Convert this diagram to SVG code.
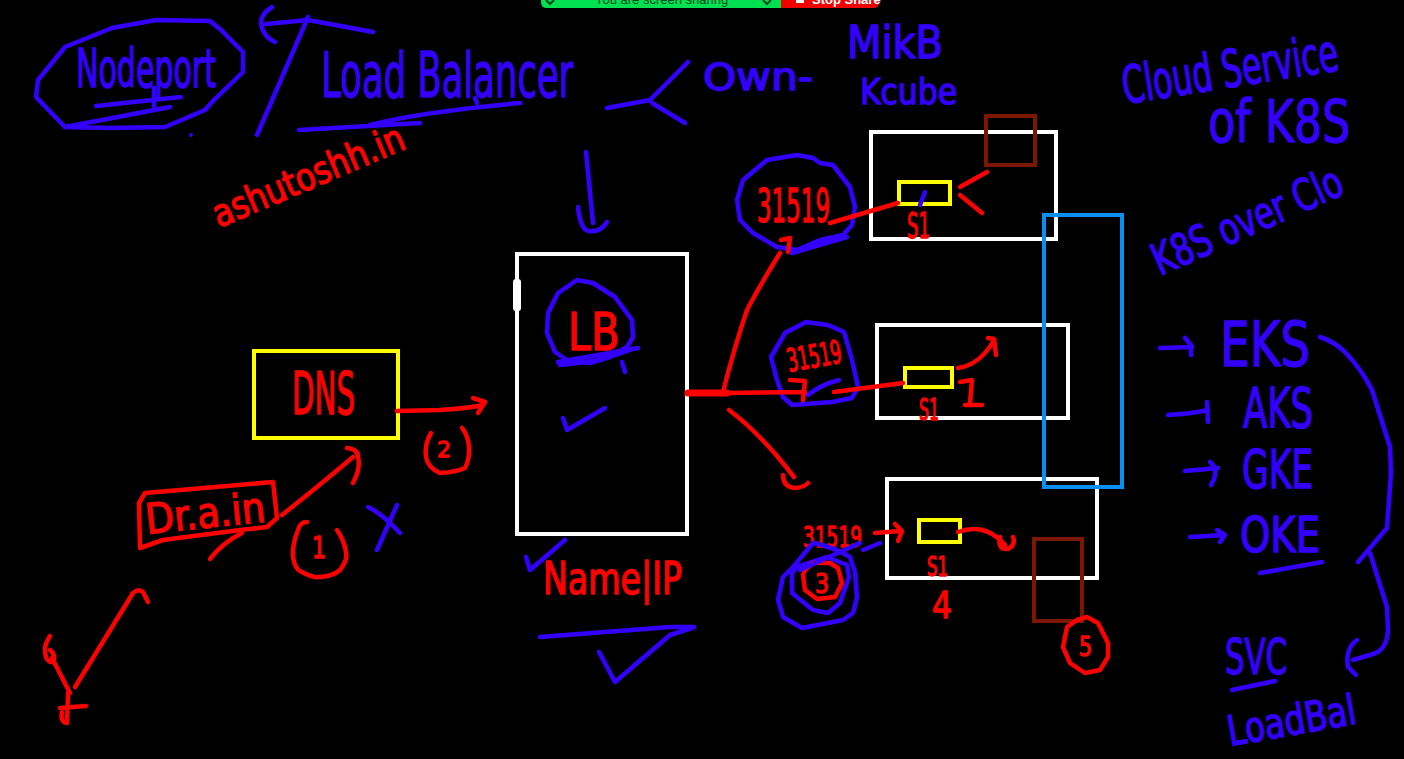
<svg xmlns="http://www.w3.org/2000/svg" width="1404" height="759" viewBox="0 0 1404 759">
<style>
.ink{fill:none;stroke-linecap:round;stroke-linejoin:round;stroke-width:4.5}
.b{stroke:#3300ff}
.r{stroke:#ff0000}
.t{font-family:"Liberation Sans Narrow","DejaVu Sans Condensed","Liberation Sans",sans-serif;stroke-width:1.3;stroke-linejoin:round}
.tb{fill:#3300ff;stroke:#3300ff}
.tr{fill:#ff0000;stroke:#ff0000}
.box{fill:none;stroke:#ffffff;stroke-width:4}
.yel{fill:none;stroke:#ffff00;stroke-width:4}
.brn{fill:none;stroke:#7a1800;stroke-width:4}
</style>
<rect x="0" y="0" width="1404" height="759" fill="#000000"/>

<g id="banner">
<path d="M541,-10 H781 V8 H547 Q541,8 541,2 Z" fill="#00e050"/>
<path d="M781,-10 H879 V2 Q879,8 873,8 H781 Z" fill="#f20000"/>
<text x="595" y="4" font-family="Liberation Sans, sans-serif" font-size="13" fill="#0b4a20">You are screen sharing</text>
<path d="M546,0 L550,4 L554,0 M763,0 L767,4 L771,0" stroke="#0b4a20" stroke-width="2" fill="none"/>
<rect x="796" y="-6" width="8" height="9" fill="#ffffff"/>
<text x="812" y="4" font-family="Liberation Sans, sans-serif" font-size="13" font-weight="bold" fill="#ffffff">Stop Share</text>
</g>

<g id="nodeport-title">
<path class="ink b" d="M65,127 L36,97 L38,80 L65,47 L112,28 L156,20 L210,21 L221,30 L243,52 L243,72 L214,100 L205,110 L165,127 L110,128 Z"/>
<text class="t tb" x="76" y="87" font-size="54" textLength="140" lengthAdjust="spacingAndGlyphs">Nodeport</text>
<path class="ink b" d="M96,106 L181,97 M65,127 L170,107 M154,88 L154,107"/>
<circle cx="191" cy="135" r="2" fill="#3300ff"/>
</g>

<g id="loadbalancer-title">
<path class="ink b" d="M272,7 Q261,14 261,22 Q262,36 275,42 M266,24 L308,20 L373,32 M308,17 L257,135"/>
<text class="t tb" x="321" y="97" font-size="62" textLength="252" lengthAdjust="spacingAndGlyphs">Load Balancer</text>
<path class="ink b" d="M299,130 L420,123 M370,125 Q420,112 520,103 M475,98 L477,103"/>
<text class="t tr" x="0" y="0" font-size="38" textLength="205" lengthAdjust="spacingAndGlyphs" transform="translate(219,228) rotate(-23)">ashutoshh.in</text>
</g>

<g id="own-notes">
<path class="ink b" d="M607,108 L650,100 L688,62 M652,103 L685,123"/>
<text class="t tb" x="703" y="90" font-size="38" textLength="110" lengthAdjust="spacingAndGlyphs">Own-</text>
<text class="t tb" x="847" y="58" font-size="44" textLength="96" lengthAdjust="spacingAndGlyphs">MikB</text>
<text class="t tb" x="860" y="104" font-size="36" textLength="97" lengthAdjust="spacingAndGlyphs">Kcube</text>
<path class="ink b" d="M586,152 L593,223 M578,207 Q580,228 588,231 Q600,233 607,222"/>
</g>

<g id="cloud-notes">
<text class="t tb" x="0" y="0" font-size="52" textLength="218" lengthAdjust="spacingAndGlyphs" transform="translate(1125,104) rotate(-9)">Cloud Service</text>
<text class="t tb" x="1208" y="142" font-size="58" textLength="142" lengthAdjust="spacingAndGlyphs">of K8S</text>
<text class="t tb" x="0" y="0" font-size="44" textLength="204" lengthAdjust="spacingAndGlyphs" transform="translate(1160,276) rotate(-24)">K8S over Clo</text>
</g>

<g id="provider-list">
<path class="ink b" d="M1160,348 L1192,347 M1185,338 L1191,345 L1191,355"/>
<text class="t tb" x="1220" y="366" font-size="62" textLength="90" lengthAdjust="spacingAndGlyphs">EKS</text>
<path class="ink b" d="M1168,415 Q1190,414 1208,410 M1207,402 L1208,422"/>
<text class="t tb" x="1243" y="427" font-size="55" textLength="70" lengthAdjust="spacingAndGlyphs">AKS</text>
<path class="ink b" d="M1185,471 L1218,468 M1210,462 Q1220,470 1211,485"/>
<text class="t tb" x="1242" y="488" font-size="54" textLength="71" lengthAdjust="spacingAndGlyphs">GKE</text>
<path class="ink b" d="M1190,537 L1225,535 M1217,530 L1225,535 L1220,542"/>
<text class="t tb" x="1240" y="552" font-size="50" textLength="80" lengthAdjust="spacingAndGlyphs">OKE</text>
<path class="ink b" d="M1260,573 L1322,562"/>
<path class="ink b" d="M1320,337 Q1335,342 1345,352 Q1362,370 1372,390 L1390,447 L1391,473 L1387,528 L1358,562"/>
<path class="ink b" d="M1370,553 L1387,607 L1388,630 Q1387,650 1373,654 L1353,660 M1357,640 Q1345,648 1348,667 L1356,675"/>
<text class="t tb" x="1225" y="674" font-size="50" textLength="62" lengthAdjust="spacingAndGlyphs">SVC</text>
<path class="ink b" d="M1232,690 L1275,681"/>
<text class="t tb" x="0" y="0" font-size="42" textLength="130" lengthAdjust="spacingAndGlyphs" transform="translate(1230,746) rotate(-10)">LoadBal</text>
</g>

<g id="client">
<path class="ink r" d="M145,493 L273,482 L277,518 L267,527 L240,530 L163,540 L140,548 L139,503 Z"/>
<text class="t tr" x="0" y="0" font-size="42" textLength="120" lengthAdjust="spacingAndGlyphs" transform="translate(147,534) rotate(-6)">Dr.a.in</text>
<path class="ink r" d="M210,559 Q222,543 242,533"/>
<path class="ink r" d="M298,530 Q292,545 293,557 Q295,570 302,572 Q312,578 320,577 Q333,576 340,570 Q348,560 346,552 Q344,540 337,530 M298,530 Q300,522 307,522"/>
<text class="t tr" x="312" y="558" font-size="30" textLength="14" lengthAdjust="spacingAndGlyphs">1</text>
<path class="ink b" d="M368,507 Q380,512 400,533 M397,505 L377,550"/>
<path class="ink r" d="M52,658 L70,693 M68,693 L67,723 M60,708 L86,706 M62,712 Q60,722 67,723 M50,636 Q44,645 45,652 Q46,662 52,662 Q57,656 50,650"/>
</g>

<g id="dns">
<rect x="254" y="351" width="144" height="87" fill="none" stroke="#ffff00" stroke-width="4"/>
<text class="t tr" x="292" y="414" font-size="58" textLength="63" lengthAdjust="spacingAndGlyphs">DNS</text>
</g>

<g id="lb">
<rect x="517" y="254" width="170" height="280" class="box"/>
<rect x="513" y="279" width="8" height="32" rx="3" fill="#ffffff"/>
<path class="ink b" d="M547,333 L548,313 L558,293 L577,280 L593,283 L615,297 L632,320 L633,337 L627,347 L610,357 L590,363 L567,360 L555,352 Z"/>
<text class="t tr" x="568" y="350" font-size="52" textLength="52" lengthAdjust="spacingAndGlyphs">LB</text>
<path class="ink b" d="M558,362 L638,348 M560,365 Q600,362 630,350 M622,362 L625,372"/>
<path class="ink b" d="M563,418 L567,430 L605,408"/>
<path class="ink b" d="M526,557 L530,570 L565,540"/>
<text class="t tr" x="543" y="594" font-size="44" textLength="139" lengthAdjust="spacingAndGlyphs">Name|IP</text>
<path class="ink b" d="M540,637 L670,627 L694,627 M599,652 L615,682 L670,635 L692,628"/>
</g>

<g id="node-1">
<rect x="871" y="132" width="185" height="107" class="box"/>
<rect x="986" y="116" width="49" height="49" class="brn"/>
<rect x="899" y="182" width="51" height="22" class="yel"/>
<path class="ink b" d="M925,192 L920,205"/>
<text class="t tr" x="907" y="238" font-size="36" textLength="23" lengthAdjust="spacingAndGlyphs">S1</text>
<path class="ink r" d="M987,172 L960,187 M960,195 L982,213"/>
<path class="ink b" d="M743,180 L767,160 L797,155 L813,158 L820,163 L833,165 L850,187 L855,207 L852,225 L843,235 L820,240 L797,250 L777,247 L753,233 L740,220 L737,200 Z M847,237 L792,253"/>
<text class="t tr" x="757" y="222" font-size="46" textLength="73" lengthAdjust="spacingAndGlyphs">31519</text>
</g>

<g id="node-2">
<rect x="877" y="325" width="191" height="93" class="box"/>
<rect x="905" y="368" width="47" height="19" class="yel"/>
<text class="t tr" x="919" y="420" font-size="30" textLength="20" lengthAdjust="spacingAndGlyphs">S1</text>
<path class="ink r" d="M958,368 Q980,365 994,340 M988,338 L994,339 L996,355"/>
<path class="ink r" d="M960,382 L972,380 L970,403 M965,405 L982,405"/>
<path class="ink b" d="M771,357 L785,333 L806,322 L828,325 L844,332 L852,360 L858,387 L852,398 L832,402 L792,405 L783,397 L777,380 Z"/>
<text class="t tr" x="0" y="0" font-size="32" textLength="55" lengthAdjust="spacingAndGlyphs" transform="translate(789,372) rotate(-10)">31519</text>
<path class="ink b" d="M808,395 Q820,385 839,380"/>
</g>

<g id="node-3">
<rect x="887" y="479" width="210" height="99" class="box"/>
<rect x="919" y="520" width="41" height="22" class="yel"/>
<rect x="1034" y="539" width="48" height="82" class="brn"/>
<text class="t tr" x="927" y="576" font-size="27" textLength="21" lengthAdjust="spacingAndGlyphs">S1</text>
<text class="t tr" x="932" y="618" font-size="38" textLength="20" lengthAdjust="spacingAndGlyphs">4</text>
<path class="ink r" d="M958,532 Q985,522 1005,545 M1000,537 Q997,550 1008,549 Q1016,545 1013,537"/>
<text class="t tr" x="803" y="547" font-size="29" textLength="59" lengthAdjust="spacingAndGlyphs">31519</text>
<path class="ink b" d="M783,577 L778,600 L783,617 L802,628 L843,620 L853,613 L857,597 L855,572 L850,557 L837,550 L822,545 L813,543 L793,567 Z"/>
<path class="ink b" d="M792,573 L792,593 L813,610 L828,613 L840,603 L849,577 L847,565 L827,557 L812,562 L797,567 Z"/>
<path class="ink r" d="M803,575 L805,590 L817,599 L835,597 L842,583 L838,568 L830,563 L813,563 L805,570 Z"/>
<text class="t tr" x="815" y="593" font-size="26" textLength="14" lengthAdjust="spacingAndGlyphs">3</text>
<path class="ink b" d="M800,570 L860,543 M863,550 L880,543"/>
<path class="ink r" d="M1067,627 L1063,647 L1070,663 L1085,673 L1100,670 L1108,657 L1108,643 L1098,623 L1087,617 L1077,620 Z"/>
<text class="t tr" x="1079" y="656" font-size="26" textLength="13" lengthAdjust="spacingAndGlyphs">5</text>
</g>

<g id="cloud-lb">
<rect x="1044" y="215" width="78" height="272" fill="none" stroke="#0a8ff0" stroke-width="4"/>
</g>

<g id="connectors">
<path class="ink r" d="M75,687 L133,593 Q138,588 143,592 L148,602"/>
<path class="ink r" d="M282,515 Q320,485 353,457 M347,448 Q358,449 358,457 Q361,468 353,483"/>
<path class="ink r" d="M397,411 L440,410 Q470,408 483,405 M473,398 L485,402 L478,413"/>
<path class="ink r" d="M431,433 Q424,445 426,457 Q428,468 440,473 Q456,472 465,468 Q470,458 469,447 Q468,435 462,428"/>
<text class="t tr" x="437" y="457" font-size="22" textLength="14" lengthAdjust="spacingAndGlyphs">2</text>
<path d="M688,393 L727,393" stroke="#ff0000" stroke-width="7" stroke-linecap="round"/>
<path class="ink r" d="M727,393 L805,392 M790,380 L805,381 L803,400"/>
<path class="ink r" d="M723,392 Q735,345 747,310 Q760,285 780,253 M781,240 L790,238 L788,252"/>
<path class="ink r" d="M729,410 Q760,433 794,477 M783,475 Q783,487 795,488 Q805,487 808,483"/>
<path class="ink r" d="M830,223 L898,203"/>
<path class="ink r" d="M834,392 L903,383"/>
<path class="ink r" d="M875,533 L900,531 M895,524 L902,531 L898,541"/>
</g>
</svg>
